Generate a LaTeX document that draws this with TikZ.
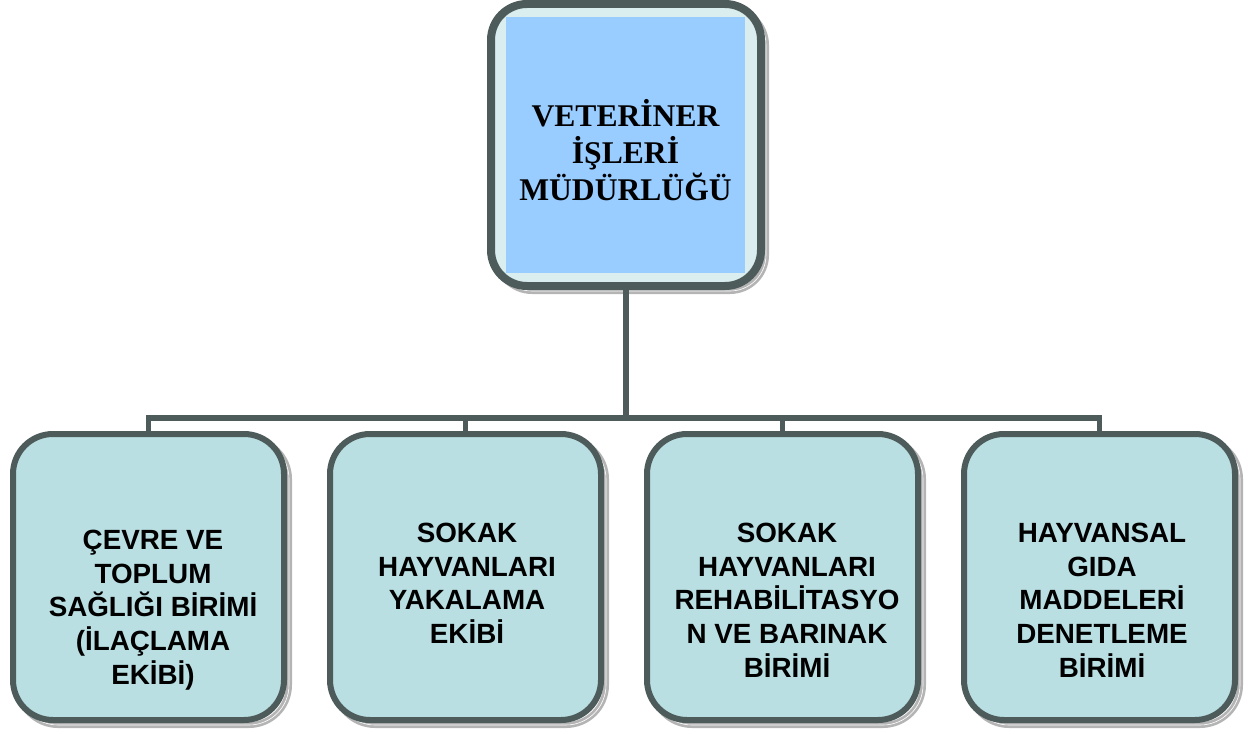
\documentclass[tikz,border=0pt]{standalone}
\usepackage{fontspec}
\setmainfont{Liberation Serif}
\newfontfamily\arialfont{Liberation Sans}
\usetikzlibrary{shadows}
\definecolor{bord}{HTML}{4D5B5B}
\definecolor{lowfill}{HTML}{B9DFE3}
\definecolor{topouter}{HTML}{DAEEF0}
\definecolor{topinner}{HTML}{99CCFF}
\definecolor{shadowgray}{HTML}{B4B4B4}
\tikzset{
  boxshadow/.style={
    general shadow={draw=shadowgray, line width=6pt, shadow xshift=5pt, shadow yshift=-5pt},
    general shadow={draw=white, line width=0.6pt, shadow xshift=5pt, shadow yshift=-5pt}},
  lowbox/.style={boxshadow, draw=bord, fill=lowfill, line width=6pt, rounded corners=40pt,
    inner sep=0pt, minimum width=271pt, minimum height=286pt},
  topbox/.style={boxshadow, draw=bord, fill=topouter, line width=8pt, rounded corners=36pt,
    inner sep=0pt, minimum width=270pt, minimum height=282pt},
  topinbox/.style={fill=topinner, inner sep=0pt, minimum width=239pt, minimum height=256pt},
  lowtext/.style={anchor=north, align=center, inner sep=0pt,
    font=\arialfont\bfseries\fontsize{27.8}{33.8}\selectfont},
  toptext/.style={anchor=north, align=center, inner sep=0pt,
    font=\bfseries\fontsize{31.6}{37}\selectfont},
  conn/.style={draw=bord, line width=5.5pt}
}
\begin{document}
\begin{tikzpicture}[x=1pt,y=-1pt]
\useasboundingbox (0,0) rectangle (1249,733);
% top box
\node[topbox] (top) at (626,145) {};
\node[topinbox] (topin) at (625.5,145) {};
\node[toptext] (toptxt) at (625.5,98) {\rule{0pt}{28pt}VETERİNER\\İŞLERİ\\MÜDÜRLÜĞÜ};
% lower boxes
\node[lowbox] (b1) at (148.5,577) {};
\node[lowbox] (b2) at (465.5,577) {};
\node[lowbox] (b3) at (782.5,577) {};
\node[lowbox] (b4) at (1099.5,577) {};
\node[lowtext] (t1) at (153,525) {\rule{0pt}{24pt}ÇEVRE VE\\TOPLUM\\SAĞLIĞI BİRİMİ\\(İLAÇLAMA\\EKİBİ)};
\node[lowtext] (t2) at (467,518) {\rule{0pt}{24pt}SOKAK\\HAYVANLARI\\YAKALAMA\\EKİBİ};
\node[lowtext] (t3) at (787,518) {\rule{0pt}{24pt}SOKAK\\HAYVANLARI\\REHABİLİTASYO\\N VE BARINAK\\BİRİMİ};
\node[lowtext] (t4) at (1102,518) {\rule{0pt}{24pt}HAYVANSAL\\GIDA\\MADDELERİ\\DENETLEME\\BİRİMİ};
% connectors
\coordinate (bus) at (626,418);
\draw[conn] (top.south) -- (top.south |- bus);
\draw[conn] (b1.north) |- (bus) -| (b4.north);
\draw[conn] (b2.north) -- (b2.north |- bus);
\draw[conn] (b3.north) -- (b3.north |- bus);
\end{tikzpicture}
\end{document}
